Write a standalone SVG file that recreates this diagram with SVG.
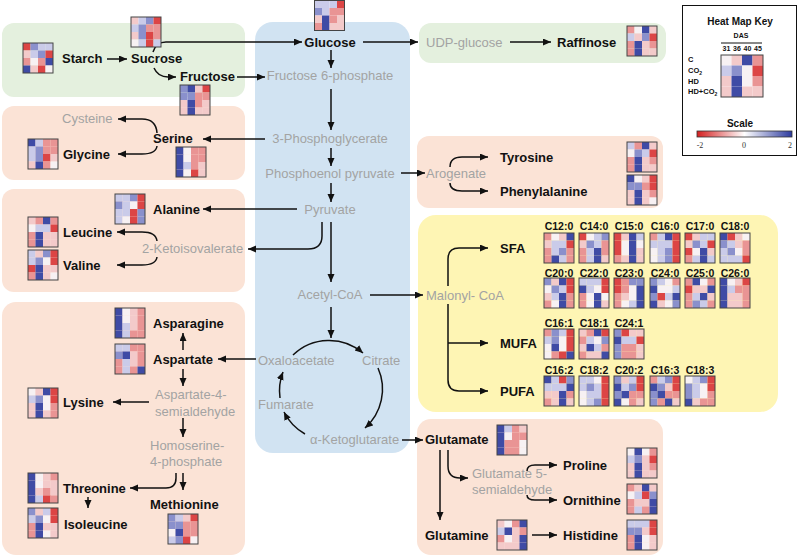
<svg xmlns="http://www.w3.org/2000/svg" width="800" height="557" viewBox="0 0 800 557">
<style>
text{font-family:"Liberation Sans",Arial,sans-serif}
.m{font-size:13px;font-weight:bold;fill:#111}
.g{font-size:13px;fill:#A3A3A3}
.mid{text-anchor:middle}
.fa{font-size:10.5px;font-weight:bold;fill:#111;text-anchor:middle}
.ln{fill:none;stroke:#111;stroke-width:1.5;marker-end:url(#ah)}
.hm rect{width:7.5px;height:7.5px}
.hm rect.bd{width:30px;height:30px}
.hk rect{width:10.5px;height:10.5px}
.hk rect.bd{width:42px;height:42px}
.bd{fill:none;stroke:#444;stroke-width:1}
.a{fill:#3F4BA5}.b{fill:#8A90CC}.c{fill:#CACBE9}.w{fill:#F7F1F3}.d{fill:#F3CACA}.e{fill:#E99494}.f{fill:#DC4545}
.gr{fill:#E4F0DE}.bl{fill:#D1E3F2}.pc{fill:#FBE3D6}.ye{fill:#FEF5B4}
.k{font-weight:bold;fill:#111}
</style>
<defs>
<marker id="ah" markerUnits="userSpaceOnUse" markerWidth="9" markerHeight="8" refX="8" refY="3.5" orient="auto"><path d="M0,0 L8,3.5 L0,7 Z" fill="#111"/></marker>
<linearGradient id="sc" x1="0" x2="1" y1="0" y2="0"><stop offset="0" stop-color="#D42020"/><stop offset="0.5" stop-color="#FFFFFF"/><stop offset="1" stop-color="#2C3A9E"/></linearGradient>
</defs>
<rect width="800" height="557" fill="#fff"/>
<g id="panels">
<rect class="gr" x="2" y="23" width="243" height="74" rx="12"/>
<rect class="pc" x="2" y="106" width="243" height="74" rx="12"/>
<rect class="pc" x="2" y="189" width="243" height="103" rx="12"/>
<rect class="pc" x="2" y="302" width="243" height="253" rx="14"/>
<rect class="bl" x="255" y="22" width="155" height="431" rx="18"/>
<rect class="gr" x="419" y="23" width="247" height="40" rx="12"/>
<rect class="pc" x="417" y="136" width="246" height="72" rx="12"/>
<rect class="ye" x="418" y="215" width="360" height="197" rx="18"/>
<rect class="pc" x="417" y="419" width="246" height="136" rx="14"/>
</g>
<g id="connectors">
<path class="ln" d="M107,59 L127,59"/>
<path class="ln" d="M153,52 Q156,42 166,42 L302,42"/>
<path class="ln" d="M154,68 Q158,77 168,77 L176,77"/>
<path class="ln" d="M237,77 L265,77"/>
<path class="ln" d="M331,50 L331,68"/>
<path class="ln" d="M363,42 L418,42"/>
<path class="ln" d="M510,42 L551,42"/>
<path class="ln" d="M331,89 L331,130"/>
<path class="ln" d="M331,148 L331,166"/>
<path class="ln" d="M331,183 L331,202"/>
<path class="ln" d="M265,139 L203,139"/>
<path class="ln" d="M157,133 Q156,119 142,119 L118,119"/>
<path class="ln" d="M157,146 Q156,154 142,154 L118,154"/>
<path class="ln" d="M401,173 L425,173"/>
<path class="ln" d="M450,167 Q450,157 462,157 L488,157"/>
<path class="ln" d="M450,183 Q450,191 462,191 L488,191"/>
<path class="ln" d="M297,209 L203,209"/>
<path class="ln" d="M322,222 L322,236 Q322,249 308,249 L248,249"/>
<path class="ln" d="M157,241 Q156,232 142,232 L117,232"/>
<path class="ln" d="M157,257 Q156,265 142,265 L117,265"/>
<path class="ln" d="M331,222 L331,282"/>
<path class="ln" d="M370,295 L423,295"/>
<path class="ln" d="M448,286 L448,259 Q448,248 459,248 L488,248"/>
<path class="ln" d="M448,304 L448,380 Q448,391 459,391 L488,391"/>
<path class="ln" d="M448,343 L488,343"/>
<path class="ln" d="M331,307 L331,338"/>
<path class="ln" d="M293,355 A52,52 0 0,1 363,353"/>
<path class="ln" d="M378,368 A52,52 0 0,1 365,428"/>
<path class="ln" d="M305,434 A52,52 0 0,1 284,412"/>
<path class="ln" d="M280,398 A52,52 0 0,1 283,372"/>
<path class="ln" d="M256,359 L218,359"/>
<path class="ln" d="M183,350 L183,333"/>
<path class="ln" d="M183,369 L183,386"/>
<path class="ln" d="M149,402 L113,402"/>
<path class="ln" d="M183,418 L183,437"/>
<path class="ln" d="M183,473 L183,490"/>
<path class="ln" d="M176,473 L176,478 Q176,488 166,488 L130,488"/>
<path class="ln" d="M88,497 L88,508"/>
<path class="ln" d="M402,440 L423,440"/>
<path class="ln" d="M440,450 L440,520"/>
<path class="ln" d="M448,450 L448,466 Q448,478 460,478 L468,478"/>
<path class="ln" d="M527,471 Q527,465 535,465 L557,465"/>
<path class="ln" d="M527,495 Q527,500 535,500 L557,500"/>
<path class="ln" d="M532,535 L557,535"/>
</g>
<g id="intermediates">
<text class="g mid" x="330" y="80">Fructose 6-phosphate</text>
<text class="g" x="426" y="47">UDP-glucose</text>
<text class="g" x="62" y="123">Cysteine</text>
<text class="g mid" x="330" y="143">3-Phosphoglycerate</text>
<text class="g mid" x="330" y="178">Phosphoenol pyruvate</text>
<text class="g" x="426" y="178">Arogenate</text>
<text class="g mid" x="330" y="214">Pyruvate</text>
<text class="g" x="142" y="253">2-Ketoisovalerate</text>
<text class="g mid" x="330" y="299">Acetyl-CoA</text>
<text class="g" x="426" y="300">Malonyl- CoA</text>
<text class="g" x="258" y="365">Oxaloacetate</text>
<text class="g" x="362" y="365">Citrate</text>
<text class="g" x="258" y="409">Fumarate</text>
<text class="g" x="310" y="444">α-Ketoglutarate</text>
<text class="g" x="155" y="399">Aspartate-4-</text>
<text class="g" x="155" y="416">semialdehyde</text>
<text class="g" x="150" y="450">Homoserine-</text>
<text class="g" x="150" y="466">4-phosphate</text>
<text class="g" x="472" y="478">Glutamate 5-</text>
<text class="g" x="472" y="494">semialdehyde</text>
</g>
<g id="starch"><text class="m" x="62" y="63">Starch</text>
<g class="hm" transform="translate(23,43)"><rect class="f"/><rect x="7.5" class="b"/><rect x="15" class="c"/><rect x="22.5" class="c"/><rect y="7.5" class="d"/><rect x="7.5" y="7.5" class="c"/><rect x="15" y="7.5" class="b"/><rect x="22.5" y="7.5" class="f"/><rect y="15" class="e"/><rect x="7.5" y="15" class="w"/><rect x="15" y="15" class="e"/><rect x="22.5" y="15" class="a"/><rect y="22.5" class="a"/><rect x="7.5" y="22.5" class="d"/><rect x="15" y="22.5" class="f"/><rect x="22.5" y="22.5" class="w"/><rect class="bd"/></g></g>
<g id="sucrose"><text class="m" x="131" y="63">Sucrose</text>
<g class="hm" transform="translate(131,17)"><rect class="d"/><rect x="7.5" class="c"/><rect x="15" class="b"/><rect x="22.5" class="f"/><rect y="7.5" class="c"/><rect x="7.5" y="7.5" class="b"/><rect x="15" y="7.5" class="e"/><rect x="22.5" y="7.5" class="e"/><rect y="15" class="d"/><rect x="7.5" y="15" class="b"/><rect x="15" y="15" class="f"/><rect x="22.5" y="15" class="e"/><rect y="22.5" class="w"/><rect x="7.5" y="22.5" class="c"/><rect x="15" y="22.5" class="f"/><rect x="22.5" y="22.5" class="c"/><rect class="bd"/></g></g>
<g id="fructose"><text class="m" x="180" y="81">Fructose</text>
<g class="hm" transform="translate(180,85)"><rect class="b"/><rect x="7.5" class="a"/><rect x="15" class="d"/><rect x="22.5" class="f"/><rect y="7.5" class="b"/><rect x="7.5" y="7.5" class="b"/><rect x="15" y="7.5" class="e"/><rect x="22.5" y="7.5" class="e"/><rect y="15" class="d"/><rect x="7.5" y="15" class="a"/><rect x="15" y="15" class="e"/><rect x="22.5" y="15" class="d"/><rect y="22.5" class="d"/><rect x="7.5" y="22.5" class="a"/><rect x="15" y="22.5" class="d"/><rect x="22.5" y="22.5" class="d"/><rect class="bd"/></g></g>
<g id="glucose"><text class="m mid" x="330" y="47">Glucose</text>
<g class="hm" transform="translate(314.5,0.5)"><rect class="c"/><rect x="7.5" class="c"/><rect x="15" class="c"/><rect x="22.5" class="f"/><rect y="7.5" class="b"/><rect x="7.5" y="7.5" class="c"/><rect x="15" y="7.5" class="e"/><rect x="22.5" y="7.5" class="e"/><rect y="15" class="d"/><rect x="7.5" y="15" class="a"/><rect x="15" y="15" class="e"/><rect x="22.5" y="15" class="d"/><rect y="22.5" class="e"/><rect x="7.5" y="22.5" class="a"/><rect x="15" y="22.5" class="d"/><rect x="22.5" y="22.5" class="d"/><rect class="bd"/></g></g>
<g id="raffinose"><text class="m" x="557" y="47">Raffinose</text>
<g class="hm" transform="translate(627,26)"><rect class="e"/><rect x="7.5" class="w"/><rect x="15" class="a"/><rect x="22.5" class="d"/><rect y="7.5" class="c"/><rect x="7.5" y="7.5" class="d"/><rect x="15" y="7.5" class="b"/><rect x="22.5" y="7.5" class="f"/><rect y="15" class="e"/><rect x="7.5" y="15" class="a"/><rect x="15" y="15" class="d"/><rect x="22.5" y="15" class="e"/><rect y="22.5" class="e"/><rect x="7.5" y="22.5" class="a"/><rect x="15" y="22.5" class="d"/><rect x="22.5" y="22.5" class="d"/><rect class="bd"/></g></g>
<g id="serine"><text class="m" x="153" y="143">Serine</text>
<g class="hm" transform="translate(176,147)"><rect class="a"/><rect x="7.5" class="w"/><rect x="15" class="e"/><rect x="22.5" class="e"/><rect y="7.5" class="a"/><rect x="7.5" y="7.5" class="w"/><rect x="15" y="7.5" class="e"/><rect x="22.5" y="7.5" class="e"/><rect y="15" class="a"/><rect x="7.5" y="15" class="c"/><rect x="15" y="15" class="e"/><rect x="22.5" y="15" class="d"/><rect y="22.5" class="a"/><rect x="7.5" y="22.5" class="w"/><rect x="15" y="22.5" class="f"/><rect x="22.5" y="22.5" class="d"/><rect class="bd"/></g></g>
<g id="glycine"><text class="m" x="63" y="159">Glycine</text>
<g class="hm" transform="translate(28,139)"><rect class="a"/><rect x="7.5" class="c"/><rect x="15" class="e"/><rect x="22.5" class="e"/><rect y="7.5" class="c"/><rect x="7.5" y="7.5" class="b"/><rect x="15" y="7.5" class="e"/><rect x="22.5" y="7.5" class="e"/><rect y="15" class="c"/><rect x="7.5" y="15" class="b"/><rect x="15" y="15" class="f"/><rect x="22.5" y="15" class="d"/><rect y="22.5" class="d"/><rect x="7.5" y="22.5" class="a"/><rect x="15" y="22.5" class="e"/><rect x="22.5" y="22.5" class="w"/><rect class="bd"/></g></g>
<g id="alanine"><text class="m" x="153" y="214">Alanine</text>
<g class="hm" transform="translate(115,194)"><rect class="c"/><rect x="7.5" class="c"/><rect x="15" class="b"/><rect x="22.5" class="f"/><rect y="7.5" class="b"/><rect x="7.5" y="7.5" class="c"/><rect x="15" y="7.5" class="w"/><rect x="22.5" y="7.5" class="f"/><rect y="15" class="c"/><rect x="7.5" y="15" class="c"/><rect x="15" y="15" class="f"/><rect x="22.5" y="15" class="b"/><rect y="22.5" class="c"/><rect x="7.5" y="22.5" class="w"/><rect x="15" y="22.5" class="f"/><rect x="22.5" y="22.5" class="b"/><rect class="bd"/></g></g>
<g id="leucine"><text class="m" x="63" y="237">Leucine</text>
<g class="hm" transform="translate(28,217)"><rect class="d"/><rect x="7.5" class="e"/><rect x="15" class="a"/><rect x="22.5" class="e"/><rect y="7.5" class="w"/><rect x="7.5" y="7.5" class="c"/><rect x="15" y="7.5" class="c"/><rect x="22.5" y="7.5" class="f"/><rect y="15" class="e"/><rect x="7.5" y="15" class="a"/><rect x="15" y="15" class="d"/><rect x="22.5" y="15" class="d"/><rect y="22.5" class="e"/><rect x="7.5" y="22.5" class="a"/><rect x="15" y="22.5" class="d"/><rect x="22.5" y="22.5" class="d"/><rect class="bd"/></g></g>
<g id="valine"><text class="m" x="63" y="270">Valine</text>
<g class="hm" transform="translate(28,250)"><rect class="c"/><rect x="7.5" class="d"/><rect x="15" class="b"/><rect x="22.5" class="f"/><rect y="7.5" class="c"/><rect x="7.5" y="7.5" class="b"/><rect x="15" y="7.5" class="w"/><rect x="22.5" y="7.5" class="f"/><rect y="15" class="f"/><rect x="7.5" y="15" class="a"/><rect x="15" y="15" class="d"/><rect x="22.5" y="15" class="d"/><rect y="22.5" class="e"/><rect x="7.5" y="22.5" class="a"/><rect x="15" y="22.5" class="d"/><rect x="22.5" y="22.5" class="w"/><rect class="bd"/></g></g>
<g id="tyrosine"><text class="m" x="500" y="162">Tyrosine</text>
<g class="hm" transform="translate(627,142)"><rect class="c"/><rect x="7.5" class="e"/><rect x="15" class="a"/><rect x="22.5" class="d"/><rect y="7.5" class="w"/><rect x="7.5" y="7.5" class="b"/><rect x="15" y="7.5" class="c"/><rect x="22.5" y="7.5" class="f"/><rect y="15" class="e"/><rect x="7.5" y="15" class="a"/><rect x="15" y="15" class="d"/><rect x="22.5" y="15" class="e"/><rect y="22.5" class="e"/><rect x="7.5" y="22.5" class="a"/><rect x="15" y="22.5" class="d"/><rect x="22.5" y="22.5" class="d"/><rect class="bd"/></g></g>
<g id="phenylalanine"><text class="m" x="500" y="196">Phenylalanine</text>
<g class="hm" transform="translate(627,175)"><rect class="a"/><rect x="7.5" class="w"/><rect x="15" class="d"/><rect x="22.5" class="f"/><rect y="7.5" class="b"/><rect x="7.5" y="7.5" class="b"/><rect x="15" y="7.5" class="e"/><rect x="22.5" y="7.5" class="f"/><rect y="15" class="d"/><rect x="7.5" y="15" class="a"/><rect x="15" y="15" class="d"/><rect x="22.5" y="15" class="e"/><rect y="22.5" class="d"/><rect x="7.5" y="22.5" class="a"/><rect x="15" y="22.5" class="d"/><rect x="22.5" y="22.5" class="w"/><rect class="bd"/></g></g>
<g id="asparagine"><text class="m" x="153" y="328">Asparagine</text>
<g class="hm" transform="translate(115,308)"><rect class="a"/><rect x="7.5" class="w"/><rect x="15" class="d"/><rect x="22.5" class="e"/><rect y="7.5" class="a"/><rect x="7.5" y="7.5" class="w"/><rect x="15" y="7.5" class="d"/><rect x="22.5" y="7.5" class="e"/><rect y="15" class="a"/><rect x="7.5" y="15" class="c"/><rect x="15" y="15" class="d"/><rect x="22.5" y="15" class="e"/><rect y="22.5" class="a"/><rect x="7.5" y="22.5" class="c"/><rect x="15" y="22.5" class="e"/><rect x="22.5" y="22.5" class="e"/><rect class="bd"/></g></g>
<g id="aspartate"><text class="m" x="153" y="364">Aspartate</text>
<g class="hm" transform="translate(115,344)"><rect class="c"/><rect x="7.5" class="c"/><rect x="15" class="e"/><rect x="22.5" class="e"/><rect y="7.5" class="b"/><rect x="7.5" y="7.5" class="a"/><rect x="15" y="7.5" class="d"/><rect x="22.5" y="7.5" class="e"/><rect y="15" class="e"/><rect x="7.5" y="15" class="c"/><rect x="15" y="15" class="d"/><rect x="22.5" y="15" class="e"/><rect y="22.5" class="e"/><rect x="7.5" y="22.5" class="c"/><rect x="15" y="22.5" class="e"/><rect x="22.5" y="22.5" class="a"/><rect class="bd"/></g></g>
<g id="lysine"><text class="m" x="63" y="407">Lysine</text>
<g class="hm" transform="translate(28,388)"><rect class="w"/><rect x="7.5" class="d"/><rect x="15" class="a"/><rect x="22.5" class="f"/><rect y="7.5" class="c"/><rect x="7.5" y="7.5" class="b"/><rect x="15" y="7.5" class="w"/><rect x="22.5" y="7.5" class="f"/><rect y="15" class="d"/><rect x="7.5" y="15" class="a"/><rect x="15" y="15" class="w"/><rect x="22.5" y="15" class="e"/><rect y="22.5" class="d"/><rect x="7.5" y="22.5" class="a"/><rect x="15" y="22.5" class="d"/><rect x="22.5" y="22.5" class="e"/><rect class="bd"/></g></g>
<g id="threonine"><text class="m" x="63" y="493">Threonine</text>
<g class="hm" transform="translate(28,473)"><rect class="a"/><rect x="7.5" class="w"/><rect x="15" class="d"/><rect x="22.5" class="e"/><rect y="7.5" class="a"/><rect x="7.5" y="7.5" class="w"/><rect x="15" y="7.5" class="d"/><rect x="22.5" y="7.5" class="d"/><rect y="15" class="a"/><rect x="7.5" y="15" class="d"/><rect x="15" y="15" class="e"/><rect x="22.5" y="15" class="d"/><rect y="22.5" class="a"/><rect x="7.5" y="22.5" class="c"/><rect x="15" y="22.5" class="f"/><rect x="22.5" y="22.5" class="e"/><rect class="bd"/></g></g>
<g id="isoleucine"><text class="m" x="64" y="529">Isoleucine</text>
<g class="hm" transform="translate(28,508)"><rect class="b"/><rect x="7.5" class="d"/><rect x="15" class="c"/><rect x="22.5" class="f"/><rect y="7.5" class="c"/><rect x="7.5" y="7.5" class="b"/><rect x="15" y="7.5" class="w"/><rect x="22.5" y="7.5" class="f"/><rect y="15" class="e"/><rect x="7.5" y="15" class="a"/><rect x="15" y="15" class="d"/><rect x="22.5" y="15" class="d"/><rect y="22.5" class="e"/><rect x="7.5" y="22.5" class="a"/><rect x="15" y="22.5" class="w"/><rect x="22.5" y="22.5" class="d"/><rect class="bd"/></g></g>
<g id="methionine"><text class="m" x="150" y="509">Methionine</text>
<g class="hm" transform="translate(168,514)"><rect class="b"/><rect x="7.5" class="c"/><rect x="15" class="d"/><rect x="22.5" class="f"/><rect y="7.5" class="b"/><rect x="7.5" y="7.5" class="b"/><rect x="15" y="7.5" class="e"/><rect x="22.5" y="7.5" class="e"/><rect y="15" class="w"/><rect x="7.5" y="15" class="a"/><rect x="15" y="15" class="e"/><rect x="22.5" y="15" class="e"/><rect y="22.5" class="c"/><rect x="7.5" y="22.5" class="b"/><rect x="15" y="22.5" class="f"/><rect x="22.5" y="22.5" class="w"/><rect class="bd"/></g></g>
<g id="glutamate"><text class="m" x="425" y="444">Glutamate</text>
<g class="hm" transform="translate(497,425)"><rect class="a"/><rect x="7.5" class="c"/><rect x="15" class="e"/><rect x="22.5" class="d"/><rect y="7.5" class="a"/><rect x="7.5" y="7.5" class="w"/><rect x="15" y="7.5" class="e"/><rect x="22.5" y="7.5" class="e"/><rect y="15" class="a"/><rect x="7.5" y="15" class="e"/><rect x="15" y="15" class="e"/><rect x="22.5" y="15" class="w"/><rect y="22.5" class="a"/><rect x="7.5" y="22.5" class="e"/><rect x="15" y="22.5" class="e"/><rect x="22.5" y="22.5" class="w"/><rect class="bd"/></g></g>
<g id="proline"><text class="m" x="563" y="470">Proline</text>
<g class="hm" transform="translate(627,448)"><rect class="w"/><rect x="7.5" class="a"/><rect x="15" class="w"/><rect x="22.5" class="e"/><rect y="7.5" class="c"/><rect x="7.5" y="7.5" class="b"/><rect x="15" y="7.5" class="d"/><rect x="22.5" y="7.5" class="f"/><rect y="15" class="d"/><rect x="7.5" y="15" class="a"/><rect x="15" y="15" class="d"/><rect x="22.5" y="15" class="e"/><rect y="22.5" class="d"/><rect x="7.5" y="22.5" class="a"/><rect x="15" y="22.5" class="d"/><rect x="22.5" y="22.5" class="d"/><rect class="bd"/></g></g>
<g id="ornithine"><text class="m" x="563" y="505">Ornithine</text>
<g class="hm" transform="translate(627,484)"><rect class="e"/><rect x="7.5" class="d"/><rect x="15" class="a"/><rect x="22.5" class="d"/><rect y="7.5" class="w"/><rect x="7.5" y="7.5" class="c"/><rect x="15" y="7.5" class="f"/><rect x="22.5" y="7.5" class="b"/><rect y="15" class="e"/><rect x="7.5" y="15" class="d"/><rect x="15" y="15" class="d"/><rect x="22.5" y="15" class="a"/><rect y="22.5" class="e"/><rect x="7.5" y="22.5" class="c"/><rect x="15" y="22.5" class="e"/><rect x="22.5" y="22.5" class="a"/><rect class="bd"/></g></g>
<g id="glutamine"><text class="m" x="425" y="540">Glutamine</text>
<g class="hm" transform="translate(497,520)"><rect class="d"/><rect x="7.5" class="w"/><rect x="15" class="e"/><rect x="22.5" class="a"/><rect y="7.5" class="c"/><rect x="7.5" y="7.5" class="a"/><rect x="15" y="7.5" class="d"/><rect x="22.5" y="7.5" class="e"/><rect y="15" class="e"/><rect x="7.5" y="15" class="w"/><rect x="15" y="15" class="d"/><rect x="22.5" y="15" class="a"/><rect y="22.5" class="d"/><rect x="7.5" y="22.5" class="d"/><rect x="15" y="22.5" class="d"/><rect x="22.5" y="22.5" class="a"/><rect class="bd"/></g></g>
<g id="histidine"><text class="m" x="563" y="540">Histidine</text>
<g class="hm" transform="translate(627,520)"><rect class="c"/><rect x="7.5" class="c"/><rect x="15" class="c"/><rect x="22.5" class="f"/><rect y="7.5" class="b"/><rect x="7.5" y="7.5" class="b"/><rect x="15" y="7.5" class="d"/><rect x="22.5" y="7.5" class="f"/><rect y="15" class="e"/><rect x="7.5" y="15" class="a"/><rect x="15" y="15" class="w"/><rect x="22.5" y="15" class="d"/><rect y="22.5" class="e"/><rect x="7.5" y="22.5" class="a"/><rect x="15" y="22.5" class="w"/><rect x="22.5" y="22.5" class="d"/><rect class="bd"/></g></g>
<g id="sfa"><text class="m" x="500" y="253">SFA</text>
<text class="fa" x="559" y="230">C12:0</text><g class="hm" transform="translate(544,233)"><rect class="e"/><rect x="7.5" class="w"/><rect x="15" class="d"/><rect x="22.5" class="a"/><rect y="7.5" class="d"/><rect x="7.5" y="7.5" class="c"/><rect x="15" y="7.5" class="c"/><rect x="22.5" y="7.5" class="f"/><rect y="15" class="e"/><rect x="7.5" y="15" class="c"/><rect x="15" y="15" class="b"/><rect x="22.5" y="15" class="e"/><rect y="22.5" class="e"/><rect x="7.5" y="22.5" class="a"/><rect x="15" y="22.5" class="c"/><rect x="22.5" y="22.5" class="e"/><rect class="bd"/></g>
<text class="fa" x="594" y="230">C14:0</text><g class="hm" transform="translate(579,233)"><rect class="f"/><rect x="7.5" class="w"/><rect x="15" class="c"/><rect x="22.5" class="b"/><rect y="7.5" class="d"/><rect x="7.5" y="7.5" class="b"/><rect x="15" y="7.5" class="c"/><rect x="22.5" y="7.5" class="e"/><rect y="15" class="e"/><rect x="7.5" y="15" class="c"/><rect x="15" y="15" class="a"/><rect x="22.5" y="15" class="e"/><rect y="22.5" class="e"/><rect x="7.5" y="22.5" class="c"/><rect x="15" y="22.5" class="a"/><rect x="22.5" y="22.5" class="d"/><rect class="bd"/></g>
<text class="fa" x="629" y="230">C15:0</text><g class="hm" transform="translate(614,233)"><rect class="f"/><rect x="7.5" class="d"/><rect x="15" class="a"/><rect x="22.5" class="c"/><rect y="7.5" class="f"/><rect x="7.5" y="7.5" class="w"/><rect x="15" y="7.5" class="a"/><rect x="22.5" y="7.5" class="w"/><rect y="15" class="f"/><rect x="7.5" y="15" class="w"/><rect x="15" y="15" class="a"/><rect x="22.5" y="15" class="d"/><rect y="22.5" class="e"/><rect x="7.5" y="22.5" class="d"/><rect x="15" y="22.5" class="a"/><rect x="22.5" y="22.5" class="d"/><rect class="bd"/></g>
<text class="fa" x="665" y="230">C16:0</text><g class="hm" transform="translate(650,233)"><rect class="e"/><rect x="7.5" class="c"/><rect x="15" class="a"/><rect x="22.5" class="f"/><rect y="7.5" class="c"/><rect x="7.5" y="7.5" class="c"/><rect x="15" y="7.5" class="c"/><rect x="22.5" y="7.5" class="f"/><rect y="15" class="w"/><rect x="7.5" y="15" class="c"/><rect x="15" y="15" class="b"/><rect x="22.5" y="15" class="f"/><rect y="22.5" class="w"/><rect x="7.5" y="22.5" class="c"/><rect x="15" y="22.5" class="b"/><rect x="22.5" y="22.5" class="f"/><rect class="bd"/></g>
<text class="fa" x="700" y="230">C17:0</text><g class="hm" transform="translate(685,233)"><rect class="f"/><rect x="7.5" class="d"/><rect x="15" class="c"/><rect x="22.5" class="c"/><rect y="7.5" class="d"/><rect x="7.5" y="7.5" class="b"/><rect x="15" y="7.5" class="c"/><rect x="22.5" y="7.5" class="f"/><rect y="15" class="f"/><rect x="7.5" y="15" class="w"/><rect x="15" y="15" class="a"/><rect x="22.5" y="15" class="d"/><rect y="22.5" class="e"/><rect x="7.5" y="22.5" class="c"/><rect x="15" y="22.5" class="a"/><rect x="22.5" y="22.5" class="c"/><rect class="bd"/></g>
<text class="fa" x="735" y="230">C18:0</text><g class="hm" transform="translate(720,233)"><rect class="a"/><rect x="7.5" class="f"/><rect x="15" class="d"/><rect x="22.5" class="w"/><rect y="7.5" class="b"/><rect x="7.5" y="7.5" class="c"/><rect x="15" y="7.5" class="d"/><rect x="22.5" y="7.5" class="e"/><rect y="15" class="c"/><rect x="7.5" y="15" class="b"/><rect x="15" y="15" class="w"/><rect x="22.5" y="15" class="e"/><rect y="22.5" class="c"/><rect x="7.5" y="22.5" class="c"/><rect x="15" y="22.5" class="c"/><rect x="22.5" y="22.5" class="f"/><rect class="bd"/></g>
<text class="fa" x="559" y="277">C20:0</text><g class="hm" transform="translate(544,278)"><rect class="b"/><rect x="7.5" class="d"/><rect x="15" class="a"/><rect x="22.5" class="f"/><rect y="7.5" class="w"/><rect x="7.5" y="7.5" class="b"/><rect x="15" y="7.5" class="c"/><rect x="22.5" y="7.5" class="f"/><rect y="15" class="d"/><rect x="7.5" y="15" class="c"/><rect x="15" y="15" class="a"/><rect x="22.5" y="15" class="e"/><rect y="22.5" class="e"/><rect x="7.5" y="22.5" class="w"/><rect x="15" y="22.5" class="a"/><rect x="22.5" y="22.5" class="e"/><rect class="bd"/></g>
<text class="fa" x="594" y="277">C22:0</text><g class="hm" transform="translate(579,278)"><rect class="c"/><rect x="7.5" class="c"/><rect x="15" class="c"/><rect x="22.5" class="f"/><rect y="7.5" class="a"/><rect x="7.5" y="7.5" class="c"/><rect x="15" y="7.5" class="w"/><rect x="22.5" y="7.5" class="f"/><rect y="15" class="e"/><rect x="7.5" y="15" class="w"/><rect x="15" y="15" class="a"/><rect x="22.5" y="15" class="w"/><rect y="22.5" class="e"/><rect x="7.5" y="22.5" class="w"/><rect x="15" y="22.5" class="a"/><rect x="22.5" y="22.5" class="d"/><rect class="bd"/></g>
<text class="fa" x="629" y="277">C23:0</text><g class="hm" transform="translate(614,278)"><rect class="f"/><rect x="7.5" class="e"/><rect x="15" class="b"/><rect x="22.5" class="b"/><rect y="7.5" class="f"/><rect x="7.5" y="7.5" class="e"/><rect x="15" y="7.5" class="w"/><rect x="22.5" y="7.5" class="a"/><rect y="15" class="e"/><rect x="7.5" y="15" class="d"/><rect x="15" y="15" class="w"/><rect x="22.5" y="15" class="a"/><rect y="22.5" class="e"/><rect x="7.5" y="22.5" class="w"/><rect x="15" y="22.5" class="c"/><rect x="22.5" y="22.5" class="a"/><rect class="bd"/></g>
<text class="fa" x="665" y="277">C24:0</text><g class="hm" transform="translate(650,278)"><rect class="b"/><rect x="7.5" class="c"/><rect x="15" class="w"/><rect x="22.5" class="e"/><rect y="7.5" class="a"/><rect x="7.5" y="7.5" class="w"/><rect x="15" y="7.5" class="w"/><rect x="22.5" y="7.5" class="c"/><rect y="15" class="b"/><rect x="7.5" y="15" class="f"/><rect x="15" y="15" class="c"/><rect x="22.5" y="15" class="a"/><rect y="22.5" class="a"/><rect x="7.5" y="22.5" class="d"/><rect x="15" y="22.5" class="w"/><rect x="22.5" y="22.5" class="b"/><rect class="bd"/></g>
<text class="fa" x="700" y="277">C25:0</text><g class="hm" transform="translate(685,278)"><rect class="e"/><rect x="7.5" class="a"/><rect x="15" class="w"/><rect x="22.5" class="e"/><rect y="7.5" class="f"/><rect x="7.5" y="7.5" class="d"/><rect x="15" y="7.5" class="d"/><rect x="22.5" y="7.5" class="a"/><rect y="15" class="e"/><rect x="7.5" y="15" class="c"/><rect x="15" y="15" class="a"/><rect x="22.5" y="15" class="d"/><rect y="22.5" class="e"/><rect x="7.5" y="22.5" class="b"/><rect x="15" y="22.5" class="c"/><rect x="22.5" y="22.5" class="e"/><rect class="bd"/></g>
<text class="fa" x="735" y="277">C26:0</text><g class="hm" transform="translate(720,278)"><rect class="a"/><rect x="7.5" class="w"/><rect x="15" class="d"/><rect x="22.5" class="f"/><rect y="7.5" class="a"/><rect x="7.5" y="7.5" class="c"/><rect x="15" y="7.5" class="e"/><rect x="22.5" y="7.5" class="e"/><rect y="15" class="a"/><rect x="7.5" y="15" class="d"/><rect x="15" y="15" class="d"/><rect x="22.5" y="15" class="e"/><rect y="22.5" class="a"/><rect x="7.5" y="22.5" class="d"/><rect x="15" y="22.5" class="d"/><rect x="22.5" y="22.5" class="e"/><rect class="bd"/></g>
</g>
<g id="mufa"><text class="m" x="500" y="348">MUFA</text>
<text class="fa" x="559" y="327">C16:1</text><g class="hm" transform="translate(544,329)"><rect class="e"/><rect x="7.5" class="b"/><rect x="15" class="c"/><rect x="22.5" class="f"/><rect y="7.5" class="c"/><rect x="7.5" y="7.5" class="b"/><rect x="15" y="7.5" class="w"/><rect x="22.5" y="7.5" class="f"/><rect y="15" class="w"/><rect x="7.5" y="15" class="a"/><rect x="15" y="15" class="w"/><rect x="22.5" y="15" class="f"/><rect y="22.5" class="w"/><rect x="7.5" y="22.5" class="e"/><rect x="15" y="22.5" class="f"/><rect x="22.5" y="22.5" class="a"/><rect class="bd"/></g>
<text class="fa" x="594" y="327">C18:1</text><g class="hm" transform="translate(579,329)"><rect class="d"/><rect x="7.5" class="e"/><rect x="15" class="a"/><rect x="22.5" class="f"/><rect y="7.5" class="e"/><rect x="7.5" y="7.5" class="c"/><rect x="15" y="7.5" class="w"/><rect x="22.5" y="7.5" class="b"/><rect y="15" class="d"/><rect x="7.5" y="15" class="a"/><rect x="15" y="15" class="c"/><rect x="22.5" y="15" class="e"/><rect y="22.5" class="e"/><rect x="7.5" y="22.5" class="d"/><rect x="15" y="22.5" class="d"/><rect x="22.5" y="22.5" class="a"/><rect class="bd"/></g>
<text class="fa" x="629" y="327">C24:1</text><g class="hm" transform="translate(614,329)"><rect class="b"/><rect x="7.5" class="f"/><rect x="15" class="d"/><rect x="22.5" class="d"/><rect y="7.5" class="a"/><rect x="7.5" y="7.5" class="c"/><rect x="15" y="7.5" class="c"/><rect x="22.5" y="7.5" class="f"/><rect y="15" class="b"/><rect x="7.5" y="15" class="e"/><rect x="15" y="15" class="e"/><rect x="22.5" y="15" class="d"/><rect y="22.5" class="b"/><rect x="7.5" y="22.5" class="e"/><rect x="15" y="22.5" class="e"/><rect x="22.5" y="22.5" class="d"/><rect class="bd"/></g>
</g>
<g id="pufa"><text class="m" x="500" y="396">PUFA</text>
<text class="fa" x="559" y="374">C16:2</text><g class="hm" transform="translate(544,376)"><rect class="a"/><rect x="7.5" class="c"/><rect x="15" class="f"/><rect x="22.5" class="b"/><rect y="7.5" class="c"/><rect x="7.5" y="7.5" class="c"/><rect x="15" y="7.5" class="c"/><rect x="22.5" y="7.5" class="a"/><rect y="15" class="d"/><rect x="7.5" y="15" class="d"/><rect x="15" y="15" class="a"/><rect x="22.5" y="15" class="e"/><rect y="22.5" class="e"/><rect x="7.5" y="22.5" class="d"/><rect x="15" y="22.5" class="a"/><rect x="22.5" y="22.5" class="d"/><rect class="bd"/></g>
<text class="fa" x="594" y="374">C18:2</text><g class="hm" transform="translate(579,376)"><rect class="c"/><rect x="7.5" class="c"/><rect x="15" class="w"/><rect x="22.5" class="f"/><rect y="7.5" class="c"/><rect x="7.5" y="7.5" class="b"/><rect x="15" y="7.5" class="c"/><rect x="22.5" y="7.5" class="f"/><rect y="15" class="w"/><rect x="7.5" y="15" class="c"/><rect x="15" y="15" class="c"/><rect x="22.5" y="15" class="f"/><rect y="22.5" class="w"/><rect x="7.5" y="22.5" class="c"/><rect x="15" y="22.5" class="b"/><rect x="22.5" y="22.5" class="f"/><rect class="bd"/></g>
<text class="fa" x="629" y="374">C20:2</text><g class="hm" transform="translate(614,376)"><rect class="b"/><rect x="7.5" class="d"/><rect x="15" class="c"/><rect x="22.5" class="f"/><rect y="7.5" class="a"/><rect x="7.5" y="7.5" class="c"/><rect x="15" y="7.5" class="b"/><rect x="22.5" y="7.5" class="f"/><rect y="15" class="b"/><rect x="7.5" y="15" class="a"/><rect x="15" y="15" class="e"/><rect x="22.5" y="15" class="e"/><rect y="22.5" class="a"/><rect x="7.5" y="22.5" class="w"/><rect x="15" y="22.5" class="e"/><rect x="22.5" y="22.5" class="d"/><rect class="bd"/></g>
<text class="fa" x="665" y="374">C16:3</text><g class="hm" transform="translate(650,376)"><rect class="e"/><rect x="7.5" class="c"/><rect x="15" class="b"/><rect x="22.5" class="f"/><rect y="7.5" class="a"/><rect x="7.5" y="7.5" class="b"/><rect x="15" y="7.5" class="d"/><rect x="22.5" y="7.5" class="f"/><rect y="15" class="b"/><rect x="7.5" y="15" class="a"/><rect x="15" y="15" class="e"/><rect x="22.5" y="15" class="e"/><rect y="22.5" class="b"/><rect x="7.5" y="22.5" class="e"/><rect x="15" y="22.5" class="a"/><rect x="22.5" y="22.5" class="d"/><rect class="bd"/></g>
<text class="fa" x="700" y="374">C18:3</text><g class="hm" transform="translate(685,376)"><rect class="w"/><rect x="7.5" class="c"/><rect x="15" class="b"/><rect x="22.5" class="f"/><rect y="7.5" class="b"/><rect x="7.5" y="7.5" class="c"/><rect x="15" y="7.5" class="w"/><rect x="22.5" y="7.5" class="f"/><rect y="15" class="b"/><rect x="7.5" y="15" class="c"/><rect x="15" y="15" class="w"/><rect x="22.5" y="15" class="e"/><rect y="22.5" class="a"/><rect x="7.5" y="22.5" class="d"/><rect x="15" y="22.5" class="e"/><rect x="22.5" y="22.5" class="e"/><rect class="bd"/></g>
</g>
<g id="key">
<rect x="682.5" y="5.5" width="114" height="150" fill="#fff" stroke="#111" stroke-width="1"/>
<text class="k mid" x="740" y="25" font-size="10">Heat Map Key</text>
<text class="k mid" x="741" y="38" font-size="7">DAS</text>
<path d="M721,43 L762,43" stroke="#111" stroke-width="1"/>
<text class="k mid" font-size="7" y="51"><tspan x="726.5">31</tspan><tspan x="737">36</tspan><tspan x="747.5">40</tspan><tspan x="758">45</tspan></text>
<text class="k" font-size="7.5" x="688" y="62">C</text>
<text class="k" font-size="7.5" x="688" y="73">CO<tspan font-size="5" dy="2">2</tspan></text>
<text class="k" font-size="7.5" x="688" y="83.5">HD</text>
<text class="k" font-size="7.5" x="688" y="94">HD+CO<tspan font-size="5" dy="2">2</tspan></text>
<g class="hk" transform="translate(721,55)"><rect class="w"/><rect x="10.5" class="d"/><rect x="21" class="a"/><rect x="31.5" class="e"/><rect y="10.5" class="c"/><rect x="10.5" y="10.5" class="b"/><rect x="21" y="10.5" class="w"/><rect x="31.5" y="10.5" class="f"/><rect y="21" class="d"/><rect x="10.5" y="21" class="a"/><rect x="21" y="21" class="w"/><rect x="31.5" y="21" class="e"/><rect y="31.5" class="d"/><rect x="10.5" y="31.5" class="a"/><rect x="21" y="31.5" class="d"/><rect x="31.5" y="31.5" class="d"/><rect class="bd"/></g>
<text class="k mid" x="740" y="127" font-size="10">Scale</text>
<rect x="697" y="131" width="95" height="6" fill="url(#sc)" stroke="#333" stroke-width="0.8"/>
<g font-family="'Liberation Serif',serif" font-size="8" fill="#333" text-anchor="middle"><text x="700" y="148" style="font-family:'Liberation Serif',serif">-2</text><text x="744" y="148" style="font-family:'Liberation Serif',serif">0</text><text x="790" y="148" style="font-family:'Liberation Serif',serif">2</text></g>
</g>
</svg>
